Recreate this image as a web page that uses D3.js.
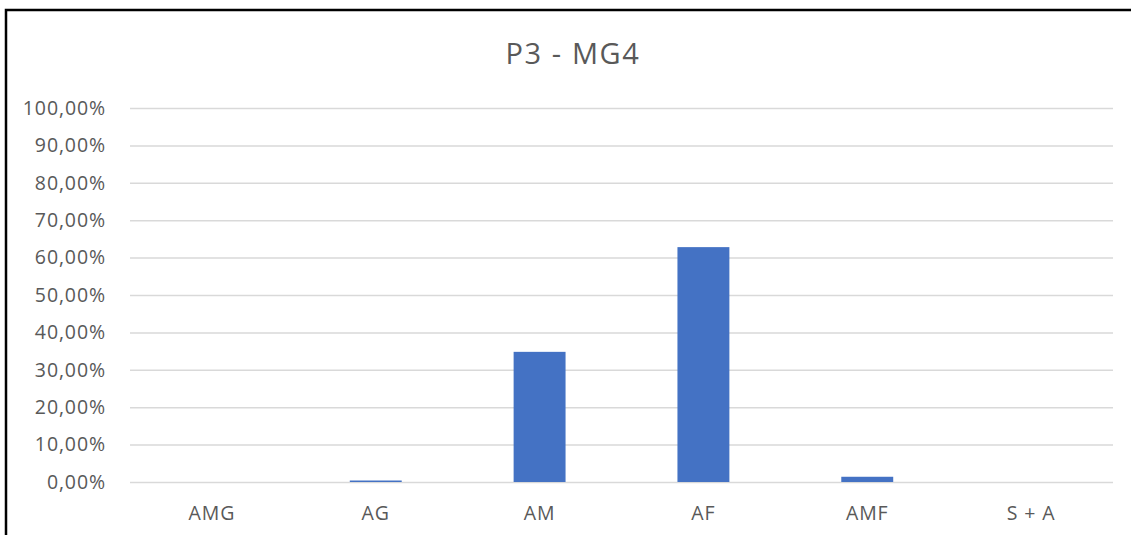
<!DOCTYPE html>
<html><head><meta charset="utf-8">
<script src="https://cdn.jsdelivr.net/npm/d3@7"></script>
<style>body{margin:0;background:#fff;} svg{display:block;font-family:"Open Sans","Noto Sans",sans-serif;}</style>
</head><body>
<script>
const categories = ["AMG","AG","AM","AF","AMF","S + A"];
const values = [0, 0.004, 0.348, 0.628, 0.014, 0];
const yTicks = [0,0.1,0.2,0.3,0.4,0.5,0.6,0.7,0.8,0.9,1.0];
const title = "P3 - MG4";

const W = 1131, H = 535;
const svg = d3.select("body").append("svg").attr("width", W).attr("height", H);

svg.append("path").attr("d", "M6,535 L6,10 L1131,10").attr("fill","none").attr("stroke","#000").attr("stroke-width",2.5);

const plot = {left:130, right:1113, top:108, bottom:482};
const x = d3.scaleBand().domain(categories).range([plot.left, plot.right]).paddingInner(0.683).paddingOuter(0.3415);
const y = d3.scaleLinear().domain([0,1]).range([plot.bottom, plot.top]);
const fmt = v => (v*100).toFixed(2).replace(".", ",") + "%";

svg.append("text").attr("x", 573).attr("y", 64).attr("text-anchor","middle")
  .attr("font-size", 29).attr("letter-spacing", 1.6).attr("fill","#595959").text(title);

const yAxis = d3.axisLeft(y).tickValues(yTicks).tickFormat(fmt).tickSize(-(plot.right-plot.left)).tickPadding(24);
const gy = svg.append("g").attr("transform", `translate(${plot.left},0)`).call(yAxis);
gy.select(".domain").remove();
gy.selectAll(".tick line").attr("stroke","#d9d9d9").attr("stroke-width",1.5);
gy.selectAll(".tick text").attr("fill","#595959").attr("font-size",19.5).attr("letter-spacing",0.9)
  .attr("font-family","'Open Sans','Noto Sans',sans-serif");

svg.append("g").selectAll("rect").data(categories).join("rect")
  .attr("x", d => x(d)).attr("width", x.bandwidth())
  .attr("y", (d,i) => y(values[i])).attr("height", (d,i) => y(0) - y(values[i]))
  .attr("fill", "#4472c4");

const xAxis = d3.axisBottom(x).tickSize(0).tickPadding(24);
const gx = svg.append("g").attr("transform", `translate(0,${plot.bottom})`).call(xAxis);
gx.select(".domain").remove();
gx.selectAll(".tick text").attr("fill","#595959").attr("font-size",19.5).attr("letter-spacing",0.9)
  .attr("font-family","'Open Sans','Noto Sans',sans-serif");
</script>
</body></html>
